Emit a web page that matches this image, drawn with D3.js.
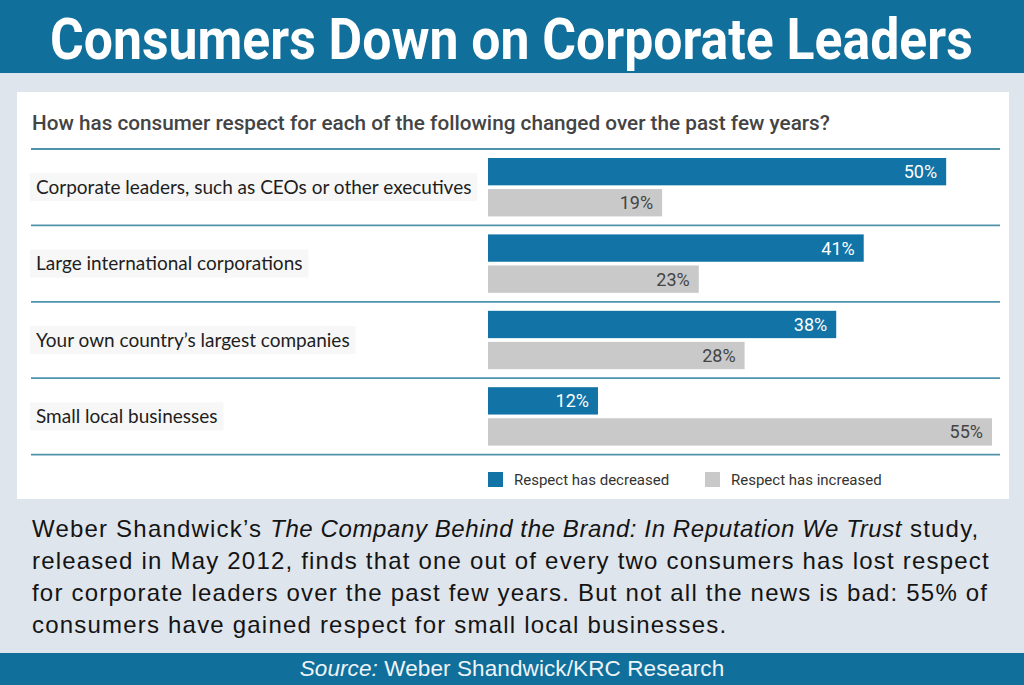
<!DOCTYPE html>
<html>
<head>
<meta charset="utf-8">
<script src="https://cdn.jsdelivr.net/npm/d3@7"></script>
<style>
  body { margin: 0; background: #dfe5ec; }
  svg { display: block; }
</style>
</head>
<body>
<script>
// Data
const categories = [
  "Corporate leaders, such as CEOs or other executives",
  "Large international corporations",
  "Your own country\u2019s largest companies",
  "Small local businesses",
];
const decreased = [50, 41, 38, 12];
const increased = [19, 23, 28, 55];
const seriesNames = ["Respect has decreased", "Respect has increased"];

const title = "Consumers Down on Corporate Leaders";
const question =
  "How has consumer respect for each of the following changed over the past few years?";
// paragraph lines, each a list of [text, italic]
const blurb = [
  [["Weber Shandwick\u2019s ", false], ["The Company Behind the Brand: In Reputation We Trust", true], [" study,", false]],
  [["released in May 2012, finds that one out of every two consumers has lost respect", false]],
  [["for corporate leaders over the past few years. But not all the news is bad: 55% of", false]],
  [["consumers have gained respect for small local businesses.", false]],
];
const source = ["Source:", " Weber Shandwick/KRC Research"];

// colours
const barBlue = "#1173a6";
const barGray = "#c9c9c9";
const headBlue = "#116f9b";
const ruleColor = "#4f93ab";

const W = 1024, H = 685;

const svg = d3
  .select("body")
  .append("svg")
  .attr("width", W)
  .attr("height", H);

// background
svg.append("rect").attr("width", W).attr("height", H).attr("fill", "#dfe5ec");

// title bar, squeezed horizontally to look condensed
svg.append("rect").attr("width", W).attr("height", 73).attr("fill", headBlue);
const titleText = svg
  .append("text")
  .style("font-family", "Roboto")
  .style("font-weight", 700)
  .style("font-size", "58px")
  .attr("fill", "#fff")
  .text(title);
const titleW = titleText.node().getComputedTextLength();
titleText.attr("transform", "translate(50,59) scale(" + 923 / titleW + ",1)");

// white chart panel
svg
  .append("rect")
  .attr("x", 17)
  .attr("y", 92)
  .attr("width", 992)
  .attr("height", 407)
  .attr("fill", "#fff");

const qText = svg
  .append("text")
  .style("font-family", "Roboto")
  .style("font-weight", 500)
  .style("font-size", "21px")
  .attr("fill", "#444")
  .text(question);
const qW = qText.node().getComputedTextLength();
qText.attr("transform", "translate(32,130) scale(" + 798 / qW + ",1)");

// scales
const yScale = d3.scaleBand().domain(categories).range([149, 454.6]);
const inner = d3
  .scaleBand()
  .domain(seriesNames)
  .range([9, yScale.bandwidth() - 9])
  .paddingInner(0.12);
const xScale = d3.scaleLinear().domain([0, 55]).range([488, 992]);
const color = d3.scaleOrdinal().domain(seriesNames).range([barBlue, barGray]);

// separator rules
const rules = categories.map((c) => yScale(c)).concat([yScale.range()[1]]);
svg
  .selectAll("line.rule")
  .data(rules)
  .enter()
  .append("line")
  .attr("class", "rule")
  .attr("x1", 31)
  .attr("x2", 1000)
  .attr("y1", (d) => d)
  .attr("y2", (d) => d)
  .attr("stroke", ruleColor)
  .attr("stroke-width", 1.8);

const rows = svg
  .selectAll("g.row")
  .data(categories.map((c, i) => ({ cat: c, vals: [decreased[i], increased[i]] })))
  .enter()
  .append("g")
  .attr("class", "row")
  .attr("transform", (d) => "translate(0," + yScale(d.cat) + ")");

// category labels with faint backing
rows.each(function (d) {
  const g = d3.select(this);
  const bg = g.append("rect").attr("fill", "#f7f7f7");
  const t = g
    .append("text")
    .attr("x", 36)
    .attr("y", yScale.bandwidth() / 2)
    .attr("dy", "0.35em")
    .style("font-family", "Lato")
    .style("font-size", "19px")
    .attr("fill", "#1e1e1e")
    .text(d.cat);
  const w = t.node().getComputedTextLength();
  bg.attr("x", 30)
    .attr("y", yScale.bandwidth() / 2 - 14)
    .attr("width", w + 12)
    .attr("height", 28);
});

// bars
rows
  .selectAll("rect.bar")
  .data((d) => d.vals.map((v, j) => ({ key: seriesNames[j], v: v })))
  .enter()
  .append("rect")
  .attr("class", "bar")
  .attr("x", xScale(0))
  .attr("y", (d) => inner(d.key))
  .attr("width", (d) => xScale(d.v) - xScale(0))
  .attr("height", inner.bandwidth())
  .attr("fill", (d) => color(d.key));

// value labels inside bar ends
rows
  .selectAll("text.val")
  .data((d) => d.vals.map((v, j) => ({ key: seriesNames[j], v: v })))
  .enter()
  .append("text")
  .attr("class", "val")
  .attr("x", (d) => xScale(d.v) - 9)
  .attr("y", (d) => inner(d.key) + inner.bandwidth() / 2)
  .attr("dy", "0.36em")
  .attr("text-anchor", "end")
  .style("font-family", "Roboto")
  .style("font-size", "18px")
  .attr("fill", (d) => (d.key === seriesNames[0] ? "#fff" : "#444"))
  .text((d) => d.v + "%");

// legend
const legendX = [488, 705];
const legend = svg
  .selectAll("g.legend")
  .data(seriesNames)
  .enter()
  .append("g")
  .attr("class", "legend")
  .attr("transform", (d, i) => "translate(" + legendX[i] + ",472)");
legend
  .append("rect")
  .attr("width", 15)
  .attr("height", 15)
  .attr("fill", (d) => color(d));
legend
  .append("text")
  .attr("x", 26)
  .attr("y", 13)
  .style("font-family", "Roboto")
  .style("font-size", "15px")
  .attr("fill", "#333")
  .text((d) => d);

// paragraph
const para = svg
  .append("text")
  .style("font-family", "Liberation Sans")
  .style("font-size", "24px")
  .style("letter-spacing", "1.2px")
  .attr("fill", "#141414");
blurb.forEach((line, i) => {
  line.forEach((part, k) => {
    const ts = para.append("tspan").text(part[0]);
    if (k === 0) ts.attr("x", 32).attr("y", 537 + i * 32);
    if (part[1]) ts.style("font-style", "italic").style("letter-spacing", "0.6px");
  });
});

// source bar
svg.append("rect").attr("y", 653).attr("width", W).attr("height", 32).attr("fill", headBlue);
const src = svg
  .append("text")
  .attr("x", 512)
  .attr("y", 676)
  .attr("text-anchor", "middle")
  .style("font-family", "Liberation Sans")
  .style("font-size", "22.5px")
  .style("letter-spacing", "0.1px")
  .attr("fill", "#eef4f8");
src.append("tspan").style("font-style", "italic").text(source[0]);
src.append("tspan").text(source[1]);
</script>
</body>
</html>
